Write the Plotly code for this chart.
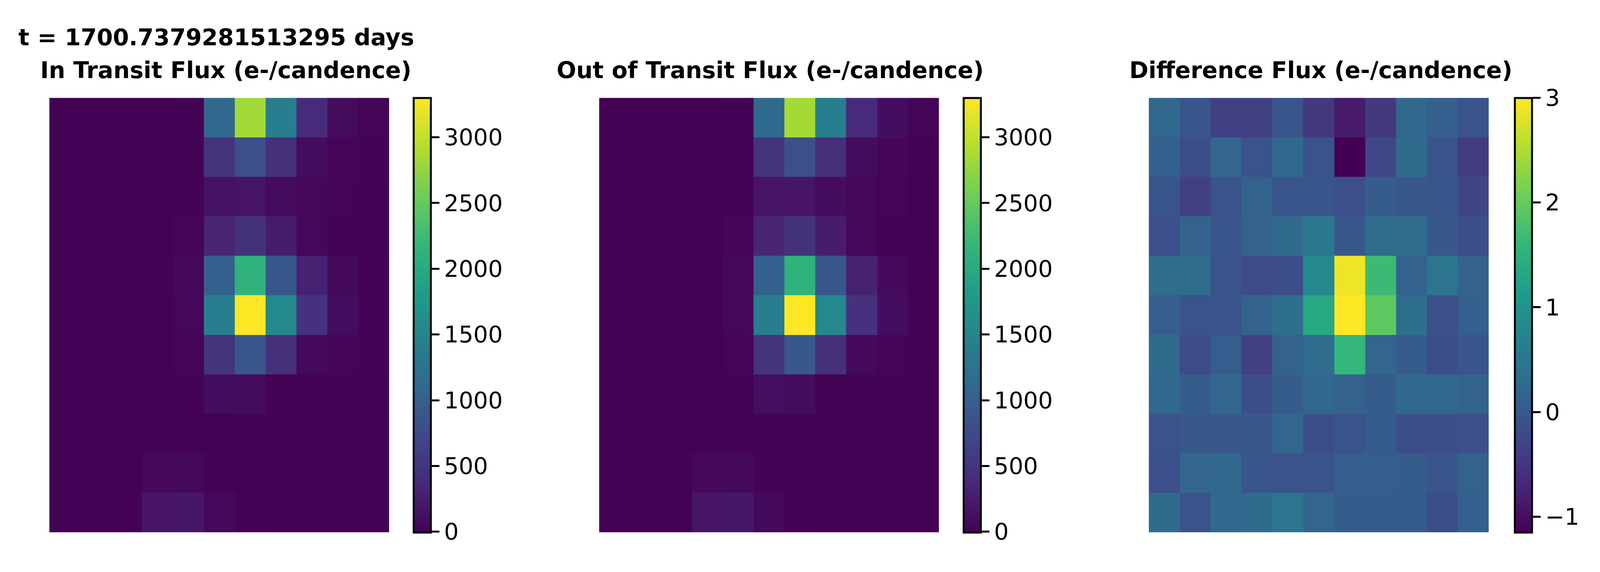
import plotly.graph_objects as go

# Reference geometry, in reference pixels; every position below is used as a fraction of the page.
REF_W, REF_H = 5238, 1465

title_lines = ["t = 1700.7379281513295 days", "In Transit Flux (e-/candence)",
               "Out of Transit Flux (e-/candence)", "Difference Flux (e-/candence)"]

in_transit = [
    [3, 3, 3, 5, 20, 1100, 2830, 1400, 400, 100, 25],
    [3, 3, 3, 5, 20, 490, 800, 450, 100, 45, 15],
    [3, 3, 3, 5, 20, 160, 175, 85, 55, 25, 8],
    [3, 3, 3, 6, 45, 330, 470, 250, 50, 20, 5],
    [3, 3, 3, 8, 65, 1000, 2130, 900, 300, 75, 15],
    [3, 3, 3, 8, 50, 1400, 3300, 1550, 460, 110, 12],
    [3, 3, 3, 5, 25, 500, 900, 450, 75, 25, 10],
    [3, 3, 3, 5, 12, 110, 100, 10, 12, 5, 5],
    [3, 3, 3, 3, 5, 5, 3, 3, 3, 3, 3],
    [3, 3, 3, 65, 70, 10, 3, 3, 3, 3, 3],
    [3, 3, 8, 180, 200, 75, 10, 3, 3, 3, 3],
]
out_transit = [
    [3, 3, 3, 5, 20, 1120, 2850, 1420, 400, 105, 25],
    [3, 3, 3, 5, 20, 490, 810, 450, 100, 45, 15],
    [3, 3, 3, 5, 20, 165, 180, 85, 55, 25, 8],
    [3, 3, 3, 6, 45, 335, 470, 250, 55, 20, 5],
    [3, 3, 3, 8, 65, 1005, 2120, 900, 300, 80, 15],
    [3, 3, 3, 8, 50, 1395, 3300, 1540, 460, 110, 12],
    [3, 3, 3, 5, 25, 500, 900, 450, 75, 25, 10],
    [3, 3, 3, 5, 12, 115, 100, 10, 12, 5, 5],
    [3, 3, 3, 3, 8, 5, 3, 3, 3, 3, 3],
    [3, 3, 3, 65, 70, 10, 3, 3, 3, 3, 3],
    [3, 3, 8, 180, 200, 75, 10, 3, 3, 3, 3],
]
diff_flux = [
    [0.24, -0.05, -0.35, -0.35, -0.05, -0.47, -0.85, -0.47, 0.24, 0.10, -0.08],
    [0.12, -0.15, 0.20, -0.08, 0.24, -0.08, -1.15, -0.24, 0.28, -0.08, -0.42],
    [-0.05, -0.35, -0.08, 0.16, -0.05, -0.05, -0.12, 0.05, 0.00, -0.05, -0.28],
    [-0.12, 0.16, -0.05, 0.16, 0.28, 0.52, 0.00, 0.30, 0.30, 0.00, -0.15],
    [0.30, 0.30, -0.08, -0.19, -0.15, 0.80, 2.90, 1.67, 0.16, 0.47, 0.16],
    [0.08, -0.08, -0.08, 0.16, 0.36, 1.34, 3.00, 1.96, 0.36, -0.12, 0.12],
    [0.28, -0.19, 0.08, -0.35, 0.16, 0.30, 1.60, 0.20, 0.05, -0.15, -0.05],
    [0.24, 0.05, 0.20, -0.15, 0.05, 0.24, 0.16, 0.05, 0.24, 0.24, 0.16],
    [-0.08, 0.00, 0.00, 0.00, 0.20, -0.15, -0.08, 0.05, -0.15, -0.15, -0.12],
    [-0.12, 0.20, 0.24, -0.05, -0.08, -0.08, 0.08, 0.08, 0.05, -0.05, 0.16],
    [0.28, -0.08, 0.24, 0.28, 0.47, 0.20, 0.05, 0.05, 0.05, -0.15, 0.12],
]

flux_range = [-5, 3300]
diff_range = [-1.15, 3.0]
flux_ticks = [0, 500, 1000, 1500, 2000, 2500, 3000]
diff_ticks = [-1, 0, 1, 2, 3]

panels = [(in_transit, flux_range, flux_ticks), (out_transit, flux_range, flux_ticks), (diff_flux, diff_range, diff_ticks)]
left_px = [161.4, 1961.4, 3761.0]
right_px = [1274.0, 3074.0, 4874.0]
cbar_px = [1354.3, 3154.3, 4958.9]
cbar_thick_px = 56
top_px, bottom_px = 250.5, 1363.5
FONT = "DejaVu Sans"
FONT_SIZE = 59

fig = go.Figure()
for i, (z, rng, ticks) in enumerate(panels):
    n = "" if i == 0 else str(i + 1)
    fig.add_trace(go.Heatmap(
        z=z, xaxis="x" + n, yaxis="y" + n, colorscale="Viridis", zmin=rng[0], zmax=rng[1],
        colorbar=dict(
            x=cbar_px[i] / REF_W, xanchor="left", xpad=0, ypad=0,
            thickness=cbar_thick_px / REF_W, thicknessmode="fraction",
            y=(REF_H - bottom_px) / REF_H, yanchor="bottom", len=(bottom_px - top_px) / REF_H, lenmode="fraction",
            outlinewidth=5, outlinecolor="black", ticks="outside", ticklen=20, tickwidth=5,
            tickcolor="black", tickvals=ticks, tickprefix="\u2009",
            tickfont=dict(family=FONT, size=FONT_SIZE, color="black"),
            borderwidth=0,
        ),
    ))
    fig.update_layout({
        "xaxis" + n: dict(domain=[left_px[i] / REF_W, right_px[i] / REF_W], range=[-0.5, 10.5], visible=False),
        "yaxis" + n: dict(domain=[(REF_H - bottom_px) / REF_H, (REF_H - top_px) / REF_H], range=[10.5, -0.5], visible=False),
    })

title_pos = [(60, 117, "left"), (131.5, 201, "left"), (2522, 201, "center"), (4324, 201, "center")]
for text, (px, base, anchor) in zip(title_lines, title_pos):
    fig.add_annotation(text=text, x=px / REF_W, y=(REF_H - base - 13) / REF_H, xref="paper", yref="paper",
                       xanchor=anchor, yanchor="bottom", showarrow=False, borderpad=0, borderwidth=0,
                       font=dict(family=FONT, size=FONT_SIZE, color="black", weight="bold"))

fig.update_layout(margin=dict(l=0, r=0, t=0, b=0), paper_bgcolor="white", plot_bgcolor="white",
                  showlegend=False, autosize=True)
fig.write_html("out.html", default_width="100vw", default_height="100vh",
               config={"displayModeBar": False},
               post_script="document.body.style.margin='0';document.body.style.overflow='hidden';")
